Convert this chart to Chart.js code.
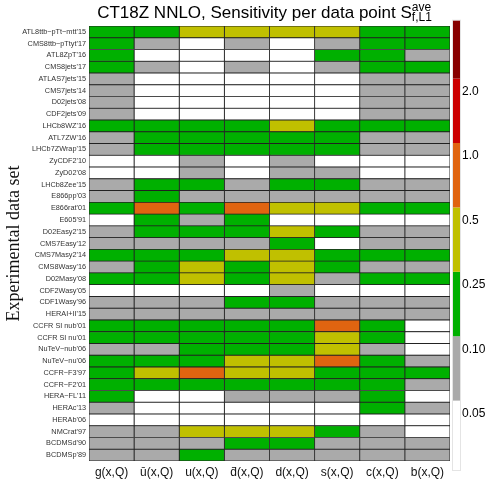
<!DOCTYPE html>
<html>
<head>
<meta charset="utf-8">
<script src="https://cdn.jsdelivr.net/npm/chart.js@4.4.1/dist/chart.umd.min.js"></script>
<style>
html,body{margin:0;padding:0;background:#fff;}
#wrap{width:490px;height:495px;}
</style>
</head>
<body>
<div id="wrap"><canvas id="c" width="490" height="495"></canvas></div>
<script>
// ---- data ----
const datasetLabels = [
  "ATL8ttb\u2212pTt\u2212mtt'15","CMS8ttb\u2212pTtyt'17","ATL8ZpT'16","CMS8jets'17","ATLAS7jets'15",
  "CMS7jets'14","D02jets'08","CDF2jets'09","LHCb8WZ'16","ATL7ZW'16","LHCb7ZWrap'15",
  "ZyCDF2'10","ZyD02'08","LHCb8Zee'15","E866pp'03","E866rat'01","E605'91","D02Easy2'15",
  "CMS7Easy'12","CMS7Masy2'14","CMS8Wasy'16","D02Masy'08","CDF2Wasy'05","CDF1Wasy'96",
  "HERAI+II'15","CCFR SI nub'01","CCFR SI nu'01","NuTeV\u2212nub'06","NuTeV\u2212nu'06",
  "CCFR\u2212F3'97","CCFR\u2212F2'01","HERA\u2212FL'11","HERAc'13","HERAb'06","NMCrat'97",
  "BCDMSd'90","BCDMSp'89"
];
const flavourLabels = ["g(x,Q)","\u016B(x,Q)","u(x,Q)","d\u0304(x,Q)","d(x,Q)","s(x,Q)","c(x,Q)","b(x,Q)"];

// sensitivity |S| per data set (rows, top to bottom) for each flavour
const gSens    = [0.17,0.17,0.17,0.17,0.07,0.07,0.07,0.07,0.17,0.07,0.07,0.03,0.03,0.07,0.07,0.17,0.03,0.07,0.07,0.17,0.07,0.17,0.03,0.07,0.07,0.17,0.17,0.07,0.17,0.17,0.17,0.17,0.07,0.03,0.07,0.07,0.07];
const ubarSens = [0.17,0.07,0.03,0.07,0.03,0.03,0.03,0.03,0.17,0.17,0.17,0.03,0.03,0.17,0.17,0.70,0.17,0.17,0.07,0.17,0.17,0.17,0.03,0.07,0.07,0.17,0.17,0.07,0.17,0.35,0.17,0.03,0.03,0.03,0.07,0.07,0.07];
const uSens    = [0.35,0.03,0.03,0.03,0.03,0.03,0.03,0.03,0.17,0.17,0.17,0.07,0.07,0.17,0.07,0.17,0.07,0.17,0.07,0.17,0.35,0.35,0.03,0.07,0.07,0.17,0.17,0.17,0.17,0.70,0.17,0.03,0.03,0.03,0.35,0.07,0.17];
const dbarSens = [0.35,0.07,0.03,0.07,0.03,0.03,0.03,0.03,0.17,0.17,0.17,0.03,0.03,0.07,0.07,0.70,0.17,0.17,0.07,0.35,0.17,0.17,0.03,0.17,0.07,0.17,0.17,0.17,0.35,0.35,0.17,0.07,0.03,0.03,0.35,0.17,0.07];
const dSens    = [0.35,0.03,0.03,0.03,0.03,0.03,0.03,0.03,0.35,0.17,0.17,0.07,0.07,0.17,0.07,0.35,0.03,0.35,0.17,0.35,0.35,0.35,0.07,0.17,0.07,0.17,0.17,0.17,0.35,0.35,0.17,0.07,0.03,0.03,0.35,0.17,0.07];
const sSens    = [0.35,0.07,0.17,0.07,0.03,0.03,0.03,0.03,0.17,0.17,0.17,0.03,0.07,0.17,0.07,0.35,0.03,0.17,0.03,0.17,0.17,0.07,0.03,0.07,0.07,0.70,0.35,0.35,0.70,0.17,0.17,0.07,0.03,0.03,0.17,0.07,0.07];
const cSens    = [0.17,0.17,0.17,0.17,0.07,0.07,0.07,0.07,0.17,0.07,0.07,0.03,0.03,0.07,0.07,0.17,0.03,0.07,0.07,0.17,0.07,0.17,0.03,0.07,0.07,0.17,0.17,0.07,0.17,0.17,0.17,0.17,0.17,0.03,0.07,0.07,0.07];
const bSens    = [0.17,0.17,0.07,0.17,0.07,0.07,0.07,0.07,0.17,0.07,0.07,0.03,0.03,0.07,0.07,0.17,0.03,0.07,0.07,0.17,0.07,0.17,0.03,0.07,0.07,0.03,0.03,0.03,0.07,0.17,0.07,0.03,0.07,0.03,0.03,0.07,0.07];
const sensByFlavour = [gSens,ubarSens,uSens,dbarSens,dSens,sSens,cSens,bSens];

const scaleBounds = [0.05,0.10,0.25,0.5,1.0,2.0];
const scaleTickLabels = ["0.05","0.10","0.25","0.5","1.0","2.0"];
const scaleColors = ["#ffffff","#aaaaaa","#00b000","#c0c000","#e06410","#cc0000","#880000"];

function colorFor(v){
  let k = 0;
  while (k < scaleBounds.length && v >= scaleBounds[k]) k++;
  return scaleColors[k];
}

const datasets = flavourLabels.map((f,j)=>({
  label: f,
  data: datasetLabels.map(()=>1),
  backgroundColor: sensByFlavour[j].map(colorFor),
  borderColor: "#222222",
  borderWidth: 0.8,
  borderSkipped: false,
  barPercentage: 1.0,
  categoryPercentage: 1.0
}));

const titlePlugin = {
  id: 'titleSub',
  afterDraw(chart){
    const ctx = chart.ctx, ca = chart.chartArea;
    ctx.save();
    ctx.fillStyle = '#000';
    ctx.textBaseline = 'alphabetic';
    ctx.textAlign = 'left';
    const main = 'CT18Z NNLO, Sensitivity per data point S';
    ctx.font = '17px "Liberation Sans", Arial, sans-serif';
    const w = ctx.measureText(main).width;
    ctx.font = '12px "Liberation Sans", Arial, sans-serif';
    const wSub = ctx.measureText('f,L1').width;
    const wSup = ctx.measureText('ave').width;
    const total = w + Math.max(wSub, wSup);
    const x0 = (ca.left + ca.right)/2 - 5 - total/2;
    ctx.font = '17px "Liberation Sans", Arial, sans-serif';
    ctx.fillText(main, x0, 17.5);
    ctx.font = '12px "Liberation Sans", Arial, sans-serif';
    ctx.fillText('f,L1', x0 + w, 20.5);
    ctx.fillText('ave', x0 + w, 11);
    ctx.restore();
  }
};

const colorbarPlugin = {
  id: 'colorbar',
  afterDraw(chart){
    const ctx = chart.ctx, ca = chart.chartArea;
    const x = ca.right + 3, wBar = 7;
    const bottom = 465, seg = 64.4, top = 20.7;
    ctx.save();
    ctx.strokeStyle = '#e4e4e4';
    ctx.lineWidth = 1;
    ctx.strokeRect(x - 0.5, top - 0.5, wBar + 1, bottom - top + 6);
    for (let k = 0; k < scaleColors.length; k++){
      const y1 = bottom - k*seg;
      const y0 = Math.max(top, y1 - seg);
      ctx.fillStyle = scaleColors[k];
      ctx.fillRect(x, y0, wBar, y1 - y0);
    }
    ctx.fillStyle = '#000';
    ctx.font = '12px "Liberation Sans", Arial, sans-serif';
    ctx.textAlign = 'left';
    ctx.textBaseline = 'middle';
    scaleTickLabels.forEach((t,k)=>{
      const yb = bottom - (k+1)*seg;
      ctx.fillText(t, x + 9, yb + 13);
    });
    ctx.restore();
  }
};

new Chart(document.getElementById('c'), {
  type: 'bar',
  data: { labels: datasetLabels, datasets },
  plugins: [titlePlugin, colorbarPlugin],
  options: {
    indexAxis: 'y',
    responsive: false,
    animation: false,
    layout: { padding: { top: 26, right: 40, bottom: 0, left: 0 } },
    plugins: { legend: { display: false }, tooltip: { enabled: false }, title: { display: false } },
    scales: {
      x: {
        type: 'linear', stacked: true, min: 0, max: 8, position: 'bottom',
        grid: { display: false, drawTicks: false },
        border: { display: false },
        afterBuildTicks: (axis) => { axis.ticks = flavourLabels.map((_,i)=>({ value: i + 0.5 })); },
        afterFit: (s) => { s.height = 34; },
        ticks: {
          autoSkip: false, maxRotation: 0, padding: 4,
          color: '#111',
          font: { family: '"Liberation Sans", Arial, sans-serif', size: 12 },
          callback: (v, i) => flavourLabels[i]
        }
      },
      y: {
        type: 'category', stacked: true,
        grid: { display: false, drawTicks: false },
        border: { display: false },
        afterFit: (s) => { s.width = 89; },
        ticks: {
          autoSkip: false, padding: 3, color: '#333',
          font: { family: '"Liberation Sans", Arial, sans-serif', size: 7.3 }
        },
        title: {
          display: true, text: 'Experimental data set', color: '#111',
          font: { family: '"Liberation Serif", "Times New Roman", serif', size: 18 },
          padding: { top: 3, bottom: 0 }
        }
      }
    }
  }
});
</script>
</body>
</html>
